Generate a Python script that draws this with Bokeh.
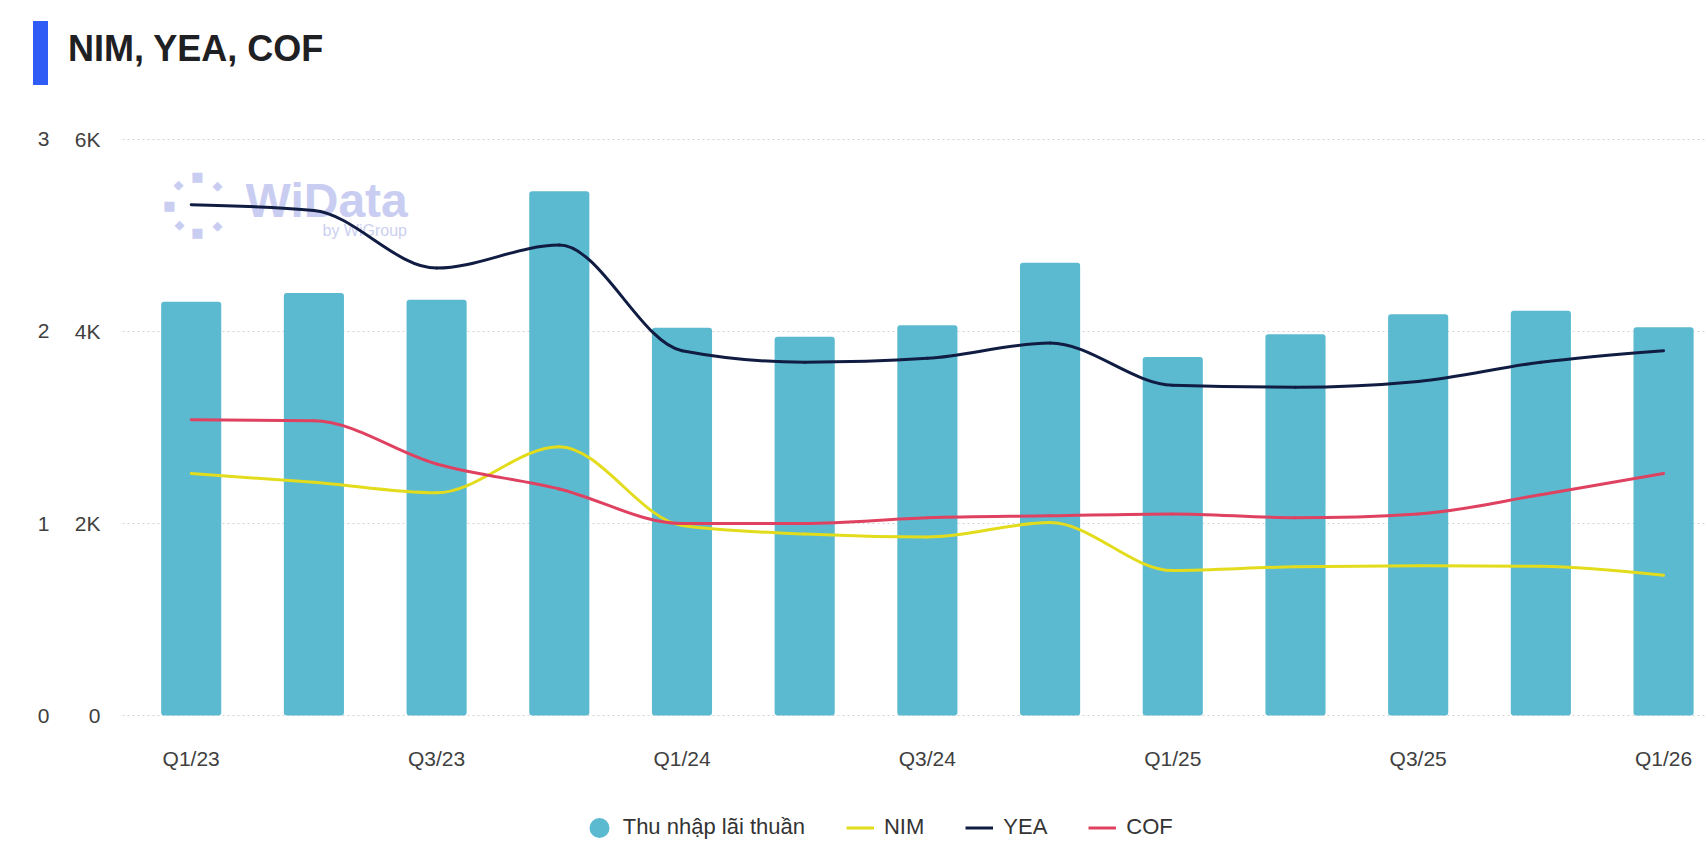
from bokeh.plotting import figure
from bokeh.layouts import column
from bokeh.models import (Range1d, LinearAxis, FixedTicker, Legend, LegendItem,
                          Label, Div)
from bokeh.embed import file_html
from bokeh.resources import INLINE

# ---------------- data ----------------
quarters = ["Q1/23", "Q2/23", "Q3/23", "Q4/23", "Q1/24", "Q2/24", "Q3/24",
            "Q4/24", "Q1/25", "Q2/25", "Q3/25", "Q4/25", "Q1/26"]
net_interest_income = [4310, 4400, 4330, 5460, 4040, 3945, 4065,
                       4715, 3735, 3970, 4180, 4215, 4045]
nim = [1.26, 1.215, 1.16, 1.40, 0.99, 0.945, 0.93, 1.005, 0.755, 0.775, 0.78, 0.777, 0.73]
yea = [2.66, 2.63, 2.33, 2.45, 1.90, 1.84, 1.86, 1.94, 1.72, 1.71, 1.74, 1.84, 1.90]
cof = [1.54, 1.535, 1.31, 1.18, 1.0, 1.0, 1.03, 1.04, 1.05, 1.03, 1.05, 1.15, 1.26]

left_ticks = [0, 2000, 4000, 6000]
left_tick_labels = ["0", "2K", "4K", "6K"]
pct_ticks = [0, 1, 2, 3]
x_label_ticks = [0, 2, 4, 6, 8, 10, 12]

TITLE = "NIM, YEA, COF"
BAR_LABEL = "Thu nhập lãi thuần"
LINE_NAMES = ["NIM", "YEA", "COF"]

BAR = "#5bbad0"
NIM_C = "#e3dc1c"
YEA_C = "#111c42"
COF_C = "#df4260"
LINE_COLORS = {"NIM": NIM_C, "YEA": YEA_C, "COF": COF_C}
FONT = "Liberation Sans"
WM = "#c9cdf1"

x_idx = list(range(len(quarters)))


def monotone_bezier(xs, ys):
    """Control points of a monotone cubic (d3 curveMonotoneX) through the data."""
    n = len(xs)

    def sgn(v):
        return -1 if v < 0 else 1

    t = [0.0] * n
    for i in range(1, n - 1):
        h0 = xs[i] - xs[i - 1]
        h1 = xs[i + 1] - xs[i]
        s0 = (ys[i] - ys[i - 1]) / h0
        s1 = (ys[i + 1] - ys[i]) / h1
        pp = (s0 * h1 + s1 * h0) / (h0 + h1)
        t[i] = (sgn(s0) + sgn(s1)) * min(abs(s0), abs(s1), 0.5 * abs(pp))
    t[0] = (3 * (ys[1] - ys[0]) / (xs[1] - xs[0]) - t[1]) / 2
    t[n - 1] = (3 * (ys[n - 1] - ys[n - 2]) / (xs[n - 1] - xs[n - 2]) - t[n - 2]) / 2
    seg = dict(x0=[], y0=[], x1=[], y1=[], cx0=[], cy0=[], cx1=[], cy1=[])
    for i in range(n - 1):
        dx = (xs[i + 1] - xs[i]) / 3
        seg["x0"].append(xs[i]); seg["y0"].append(ys[i])
        seg["x1"].append(xs[i + 1]); seg["y1"].append(ys[i + 1])
        seg["cx0"].append(xs[i] + dx); seg["cy0"].append(ys[i] + dx * t[i])
        seg["cx1"].append(xs[i + 1] - dx); seg["cy1"].append(ys[i + 1] - dx * t[i + 1])
    return seg


# ---------------- title ----------------
title_html = (
    '<div style="position:relative;width:1706px;height:100px;">'
    '<div style="position:absolute;left:33px;top:21px;width:15px;height:64px;'
    'background:#2f5cf5;"></div>'
    '<div style="position:absolute;left:68px;top:31px;font-family:\'Liberation Sans\';'
    'font-weight:bold;font-size:36px;line-height:1;color:#1f2023;white-space:nowrap;">'
    + TITLE + '</div></div>'
)
title_div = Div(text=title_html, width=1706, height=100, margin=(0, 0, 0, 0))

# ---------------- main chart ----------------
p = figure(width=1706, height=676, output_backend="svg", toolbar_location=None,
           x_range=Range1d(-0.56, 12.35), y_range=Range1d(-10, 6010),
           min_border_left=122, min_border_right=0, min_border_top=38,
           min_border_bottom=60, margin=(0, 0, 0, 0))
p.extra_y_ranges = {"pct": Range1d(-0.005, 3.005)}
p.outline_line_color = None
p.background_fill_color = "white"
p.border_fill_color = "white"

p.xgrid.grid_line_color = None
p.ygrid.ticker = FixedTicker(ticks=left_ticks)
p.ygrid.grid_line_color = "#d4d4d4"
p.ygrid.grid_line_dash = "2 3"
p.ygrid.grid_line_width = 1


def style_axis(ax, standoff):
    ax.axis_line_color = None
    ax.major_tick_line_color = None
    ax.minor_tick_line_color = None
    ax.major_tick_out = 0
    ax.major_tick_in = 0
    ax.minor_tick_out = 0
    ax.major_label_text_font = FONT
    ax.major_label_text_font_size = "21px"
    ax.major_label_text_color = "#404040"
    ax.major_label_standoff = standoff


yax = p.yaxis[0]
yax.ticker = FixedTicker(ticks=left_ticks)
yax.major_label_overrides = {t: l for t, l in zip(left_ticks, left_tick_labels)}
style_axis(yax, 22)

pct_axis = LinearAxis(y_range_name="pct", ticker=FixedTicker(ticks=pct_ticks))
style_axis(pct_axis, 22)
p.add_layout(pct_axis, "left")

xax = p.xaxis[0]
xax.ticker = FixedTicker(ticks=x_label_ticks)
xax.major_label_overrides = {i: quarters[i] for i in x_label_ticks}
style_axis(xax, 30)

# watermark (logo text + dot ring)
p.add_layout(Label(x=123, y=516, x_units="screen", y_units="screen", text="WiData",
                   text_font=FONT, text_font_style="bold", text_font_size="48px",
                   text_color=WM, text_baseline="alphabetic", level="underlay"))
p.add_layout(Label(x=200, y=486, x_units="screen", y_units="screen", text="by WiGroup",
                   text_font=FONT, text_font_size="16px",
                   text_color="#ccd0f0", text_baseline="alphabetic", level="underlay"))
for dx, dy, ch in [(56, 532, "◆"), (75, 540, "■"), (95, 531, "◆"), (47, 511, "■"),
                   (57, 492, "◆"), (75, 484, "■"), (95, 491, "◆")]:
    p.add_layout(Label(x=dx, y=dy, x_units="screen", y_units="screen", text=ch,
                       text_font="DejaVu Sans", text_font_size="13px", text_color=WM,
                       text_align="center", text_baseline="middle", level="underlay"))

# bars
p.vbar(x=x_idx, top=net_interest_income, width=0.49, fill_color=BAR,
       line_color=None, border_radius=3)

# smooth lines
for name, vals in [("NIM", nim), ("YEA", yea), ("COF", cof)]:
    seg = monotone_bezier(x_idx, vals)
    p.bezier(line_color=LINE_COLORS[name], line_width=3, line_cap="round",
             y_range_name="pct", **seg)

# ---------------- legend strip ----------------
lg = figure(width=1706, height=88, output_backend="svg", toolbar_location=None,
            x_range=Range1d(0, 1706), y_range=Range1d(0, 88),
            min_border=0, margin=(0, 0, 0, 0),
            x_axis_location=None, y_axis_location=None)
lg.grid.visible = False
lg.outline_line_color = None
lg.background_fill_color = "white"
lg.border_fill_color = "white"

bar_proxy = lg.ellipse(x=[-100], y=[-100], width=20, height=20, width_units="screen",
                       height_units="screen", fill_color=BAR, line_color=None)
items = [LegendItem(label=BAR_LABEL, renderers=[bar_proxy])]
for n in LINE_NAMES:
    r = lg.line(x=[-100, -90], y=[-100, -100], line_color=LINE_COLORS[n], line_width=3)
    items.append(LegendItem(label=n, renderers=[r]))

legend = Legend(items=items, location=(462.7, 23.8), orientation="horizontal",
                glyph_width=28, glyph_height=25, label_height=25, label_standoff=10,
                spacing=41, padding=0, margin=0, border_line_color=None,
                background_fill_alpha=0, label_text_font=FONT,
                label_text_font_size="22px", label_text_color="#333333")
lg.add_layout(legend)

layout = column(title_div, p, lg, spacing=0, margin=(0, 0, 0, 0))
open("out.html", "w").write(file_html(layout, INLINE))
